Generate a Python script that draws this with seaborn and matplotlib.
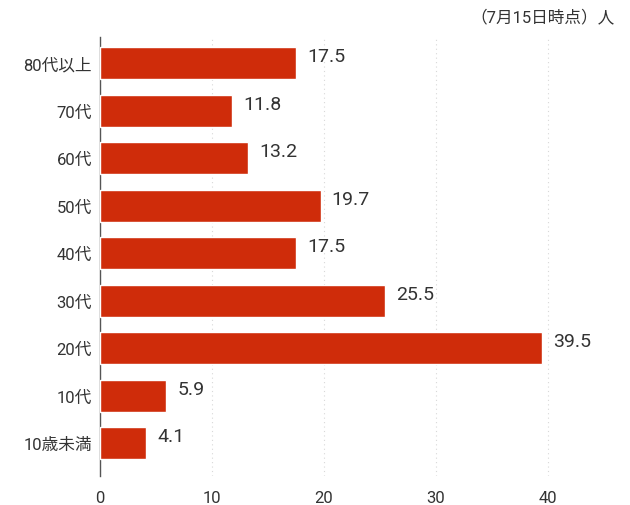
import matplotlib
matplotlib.use("Agg")
import matplotlib.pyplot as plt
import seaborn as sns
import pandas as pd

# Data
age_groups = ["80代以上", "70代", "60代", "50代", "40代", "30代", "20代", "10代", "10歳未満"]
values = [17.5, 11.8, 13.2, 19.7, 17.5, 25.5, 39.5, 5.9, 4.1]
x_ticks = [0, 10, 20, 30, 40]
note = "（7月15日時点）人"

df = pd.DataFrame({"age": age_groups, "value": values})

sns.set_theme(style="white")
plt.rcParams["font.family"] = ["Roboto", "Noto Sans CJK JP", "DejaVu Sans"]

fig = plt.figure(figsize=(6.3, 5.06), dpi=100)
ax = fig.add_axes([0.159, 0.057, 0.817, 0.868])

sns.barplot(data=df, x="value", y="age", color="#CF2C0A", width=0.67,
            saturation=1, ax=ax, zorder=3)

# value labels a bit right of each bar end and slightly above its centre
for bar, v in zip(ax.patches, values):
    ax.annotate(f"{v:.1f}", (bar.get_width(), bar.get_y() + bar.get_height() / 2),
                xytext=(8, 5), textcoords="offset points", ha="left", va="center",
                fontsize=14, color="#333333")

ax.set_xlim(0, 46)
ax.set_ylim(8.69, -0.55)
ax.set_xticks(x_ticks)
ax.set_xlabel("")
ax.set_ylabel("")
ax.tick_params(axis="both", length=0, labelsize=12, colors="#333333")
ax.tick_params(axis="x", pad=10)
ax.tick_params(axis="y", pad=6)

ax.xaxis.grid(True, linestyle=(0, (1, 3)), color="#d8d8d8", linewidth=0.8, zorder=0)
ax.yaxis.grid(False)

for side in ["top", "right", "bottom"]:
    ax.spines[side].set_visible(False)
ax.spines["left"].set_color("#555555")
ax.spines["left"].set_linewidth(1.0)

fig.text(0.976, 0.965, note, ha="right", va="center", fontsize=12, color="#333333")

fig.savefig("out.png", dpi=100)
